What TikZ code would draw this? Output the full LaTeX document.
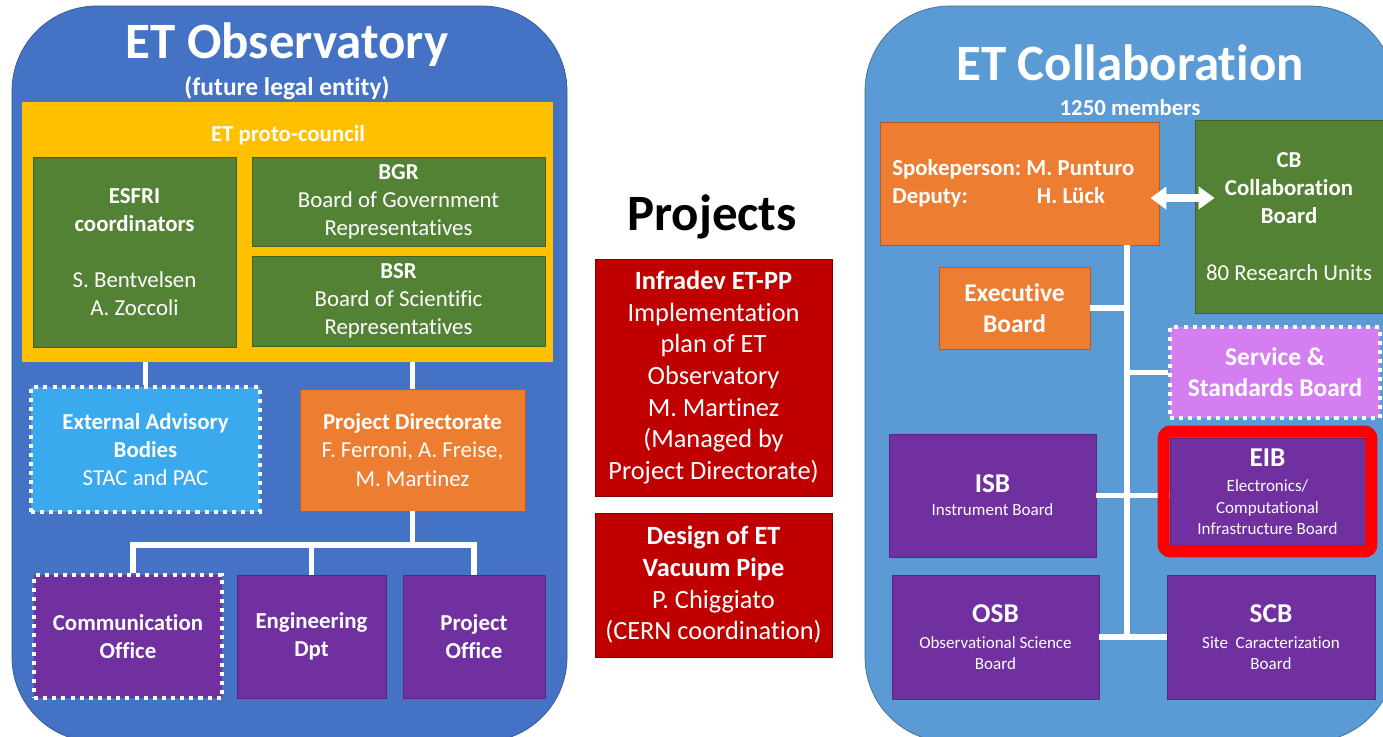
\documentclass[tikz,border=0pt]{standalone}
\usepackage{fontspec}
\setmainfont{Carlito}[Ligatures=NoCommon]
\usetikzlibrary{arrows.meta,fit}
\definecolor{obsblue}{HTML}{4472C4}
\definecolor{colblue}{HTML}{5B9BD5}
\definecolor{councilyellow}{HTML}{FFC000}
\definecolor{boardgreen}{HTML}{548235}
\definecolor{dirorange}{HTML}{ED7D31}
\definecolor{advblue}{HTML}{3AA9EE}
\definecolor{officepurple}{HTML}{7030A0}
\definecolor{projred}{HTML}{C00000}
\definecolor{servviolet}{HTML}{D47EF2}

\tikzset{
  box/.style={rectangle, inner sep=0pt, text=white, align=center,
    font=\fontsize{13pt}{16pt}\selectfont},
  greenbox/.style={box, fill=boardgreen, draw=boardgreen!75!black, line width=0.5pt},
  orangebox/.style={box, fill=dirorange, draw=dirorange!75!black, line width=0.5pt},
  purplebox/.style={box, fill=officepurple, draw=officepurple!80!black, line width=0.5pt},
  redbox/.style={box, fill=projred, draw=projred!70!black, line width=0.5pt,
    font=\fontsize{15pt}{18pt}\selectfont},
  dotframe/.style={draw=white, line width=2.3pt, dash pattern=on 2.3pt off 2.9pt},
  wire/.style={draw=white, line width=3.4pt},
  title/.style={text=white, font=\fontsize{29pt}{35pt}\selectfont\bfseries},
  smallbd/.style={font=\fontsize{9.7pt}{12pt}\selectfont},
}
\newcommand{\bighead}[1]{{\fontsize{15.5pt}{18pt}\selectfont\textbf{#1}}}

\begin{document}
\begin{tikzpicture}[x=0.02cm, y=-0.02cm]
\useasboundingbox (0,0) rectangle (1383,737);

% the two panels
\filldraw[fill=obsblue, draw=obsblue!75!black, rounded corners=1.7cm] (12,6) rectangle (567,742);
\filldraw[fill=colblue, draw=colblue!70!black, rounded corners=1.7cm] (865,6) rectangle (1395,742);

% ET Observatory
\node[title] (obstitle) at (287,45) {ET Observatory};
\node[text=white, font=\fontsize{14.5pt}{17pt}\selectfont\bfseries] (legal) at (287,88) {(future legal entity)};
\node[box, fill=councilyellow, minimum width=10.62cm, minimum height=5.2cm] (council) at (287.5,232) {};
\node[text=white, font=\fontsize{13pt}{16pt}\selectfont\bfseries] (councillabel) at (288,135) {ET proto-council};
\node[greenbox, minimum width=4.06cm, minimum height=3.8cm] (esfri) at (134.5,252)
  {\textbf{ESFRI}\\\textbf{coordinators}\\[16pt]S. Bentvelsen\\A. Zoccoli};
\node[greenbox, minimum width=5.86cm, minimum height=1.78cm] (bgr) at (398.5,201.5)
  {\textbf{BGR}\\Board of Government\\Representatives};
\node[greenbox, minimum width=5.86cm, minimum height=1.8cm] (bsr) at (398.5,301)
  {\textbf{BSR}\\Board of Scientific\\Representatives};
\node[box, fill=advblue, dotframe, minimum width=4.58cm, minimum height=2.5cm] (ext) at (145.5,449.5)
  {\textbf{External Advisory}\\\textbf{Bodies}\\STAC and PAC};
\node[orangebox, minimum width=4.5cm, minimum height=2.44cm] (pd) at (412.5,450)
  {\textbf{Project Directorate}\\F. Ferroni, A. Freise,\\M. Martinez};
\node[purplebox, dotframe, minimum width=3.76cm, minimum height=2.46cm] (comm) at (128,636.5)
  {\textbf{Communication}\\\textbf{Office}};
\node[purplebox, minimum width=2.98cm, minimum height=2.46cm] (eng) at (311.5,636.5)
  {\textbf{Engineering}\\\textbf{Dpt}};
\node[purplebox, minimum width=2.84cm, minimum height=2.46cm] (office) at (474,636.5)
  {\textbf{Project}\\\textbf{Office}};

\draw[wire] (ext.north) -- (ext.north |- council.south);
\draw[wire] (pd.north) -- (pd.north |- council.south);
\coordinate (lbus) at (412.5,545);
\draw[wire] (pd.south) -- (lbus);
\draw[wire] ([xshift=0.1cm]comm.north) |- (lbus) -| (office.north);
\draw[wire] (eng.north) -- (eng.north |- lbus);

% Projects
\node[font=\fontsize{29pt}{35pt}\selectfont\bfseries] (projects) at (712,217) {Projects};
\node[redbox, minimum width=4.74cm, minimum height=4.74cm] (etpp) at (713.5,377.5)
  {\textbf{Infradev ET-PP}\\Implementation\\plan of ET\\Observatory\\M. Martinez\\(Managed by\\Project Directorate)};
\node[redbox, minimum width=4.74cm, minimum height=2.88cm] (vacuum) at (713.5,585)
  {\textbf{Design of ET}\\\textbf{Vacuum Pipe}\\P. Chiggiato\\(CERN coordination)};

% ET Collaboration
\node[title] (coltitle) at (1130,63) {ET Collaboration};
\node[text=white, font=\fontsize{13pt}{16pt}\selectfont\bfseries] (members) at (1130,108) {1250 members};
\node[orangebox, minimum width=5.58cm, minimum height=2.46cm, font=\fontsize{13pt}{16pt}\selectfont\bfseries] (spoke) at (1019.5,183.5)
  {\begin{tabular}{@{}l@{\hspace{3pt}}l@{}}Spokeperson: & M. Punturo\\Deputy: & \hspace{6pt}H. L\"uck\end{tabular}\hspace{7pt}};
\node[greenbox, minimum width=3.76cm, minimum height=3.86cm] (cb) at (1289,216.5)
  {\textbf{CB}\\\textbf{Collaboration}\\\textbf{Board}\\[16pt]80 Research Units};
\node[orangebox, minimum width=3.02cm, minimum height=1.64cm, font=\fontsize{14.5pt}{17.5pt}\selectfont\bfseries] (exec) at (1014.5,308)
  {Executive\\Board};
\node[box, fill=servviolet, dotframe, minimum width=4.2cm, minimum height=1.82cm, font=\fontsize{14.5pt}{17.5pt}\selectfont\bfseries] (ssb) at (1275,372.5)
  {Service \&\\Standards Board};
\node[purplebox, smallbd, minimum width=4.14cm, minimum height=2.46cm] (isb) at (992.5,495.5)
  {\bighead{ISB}\\[1pt]Instrument Board};
\node[purplebox, smallbd, minimum width=3.9cm, minimum height=2.14cm] (eib) at (1267.5,491.5)
  {\bighead{EIB}\\[2.5pt]Electronics/\\Computational\\Infrastructure Board};
\node[purplebox, smallbd, minimum width=4.14cm, minimum height=2.48cm] (osb) at (995.5,637)
  {\bighead{OSB}\\[2.5pt]Observational Science\\Board};
\node[purplebox, smallbd, minimum width=4.16cm, minimum height=2.48cm] (scb) at (1271,637)
  {\bighead{SCB}\\[2.5pt]Site\ \ Caracterization\\Board};

\coordinate (ttop) at (1127,245);
\draw[wire] (ttop) -- (ttop |- osb.east);
\draw[wire] (exec.east) -- (exec.east -| ttop);
\draw[wire] (ssb.west) -- (ssb.west -| ttop);
\draw[wire] (isb.east) -- (isb.east -| eib.west);
\draw[wire] (osb.east) -- (osb.east -| scb.west);

\coordinate (arrl) at ([yshift=-0.29cm]spoke.east);
\coordinate (arrr) at (arrl -| cb.west);
\draw[white, line width=4pt, {Triangle[length=0.32cm,width=0.44cm]}-{Triangle[length=0.32cm,width=0.44cm]}]
  ([xshift=-0.18cm]arrl) -- ([xshift=0.4cm]arrr);

\node[fit=(eib), inner sep=0.12cm, draw=red, line width=0.24cm, rounded corners=4pt] (eibmark) {};
\end{tikzpicture}
\end{document}
